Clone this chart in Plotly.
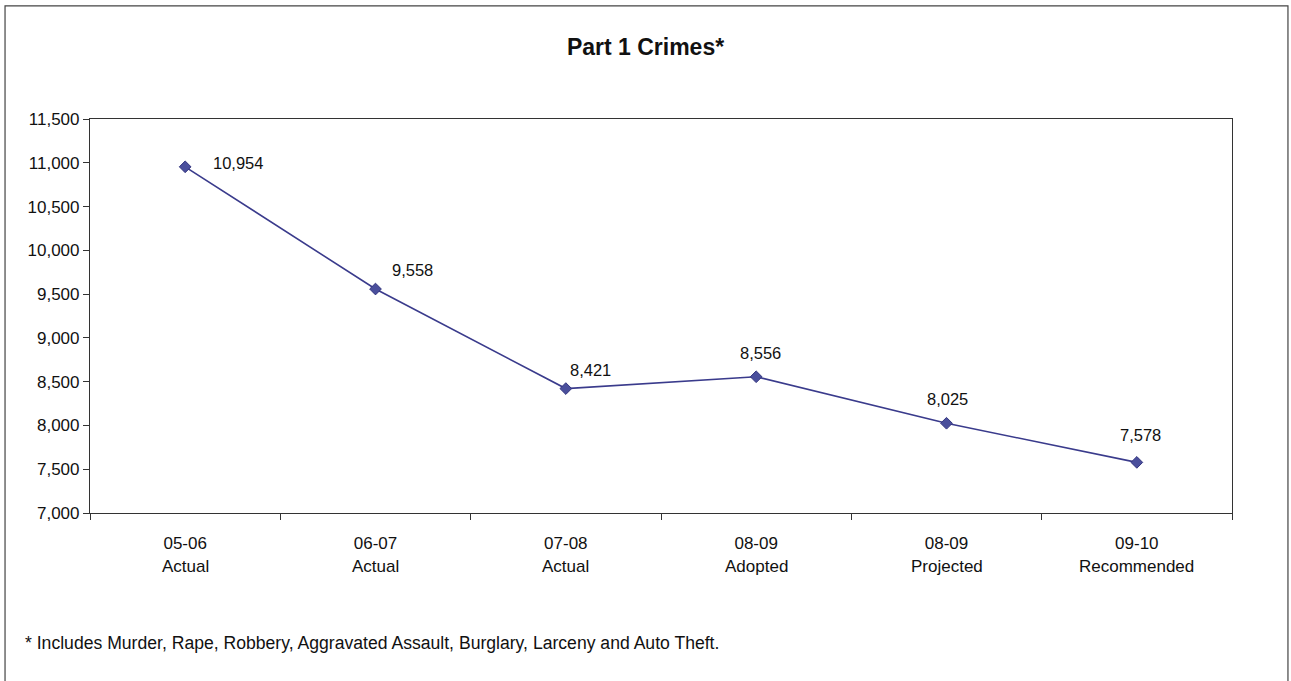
import plotly.graph_objects as go

periods = ["05-06", "06-07", "07-08", "08-09", "08-09", "09-10"]
kinds = ["Actual", "Actual", "Actual", "Adopted", "Projected", "Recommended"]
crimes = [10954, 9558, 8421, 8556, 8025, 7578]
y_ticks = [7000, 7500, 8000, 8500, 9000, 9500, 10000, 10500, 11000, 11500]

# label offsets (pixels) - styling only
label_dx = [53, 37, 25, 4, 1, 4]
label_dy = [4, 19, 19, 24, 24, 27]

FONT = "Liberation Sans, Arial, sans-serif"
x_idx = list(range(len(periods)))

fig = go.Figure()
fig.add_trace(go.Scatter(
    x=x_idx, y=crimes, mode="lines+markers",
    line=dict(color="#3a3b8c", width=1.6),
    marker=dict(symbol="diamond", size=9, color="#4a4f9c",
                line=dict(color="#33357f", width=1)),
    hoverinfo="skip", showlegend=False,
))

for i, v in enumerate(crimes):
    fig.add_annotation(x=i, y=v, text=f"{v:,}", showarrow=False,
                       xshift=label_dx[i], yshift=label_dy[i],
                       font=dict(family=FONT, size=16.5, color="#111111"))

# second line of category labels
for i, k in enumerate(kinds):
    fig.add_annotation(x=i, xref="x", yref="paper", y=-0.137, text=k,
                       showarrow=False, yanchor="middle",
                       font=dict(family=FONT, size=17, color="#111111"))

fig.add_annotation(xref="paper", yref="paper", x=-0.059, y=-0.33,
                   xanchor="left", yanchor="middle", showarrow=False,
                   text="* Includes Murder, Rape, Robbery, Aggravated Assault, Burglary, Larceny and Auto Theft.",
                   font=dict(family=FONT, size=17.6, color="#111111"))

# outer chart border
fig.add_shape(type="rect", xref="paper", yref="paper",
              x0=-0.0744, x1=1.049, y0=-0.46, y1=1.287,
              line=dict(color="#444444", width=1.2), layer="below")

fig.update_layout(
    width=1291, height=681,
    margin=dict(l=90, r=59, t=119, b=168),
    paper_bgcolor="white", plot_bgcolor="white",
    title=dict(text="<b>Part 1 Crimes*</b>", x=0.5, xanchor="center",
               xref="container", y=1 - 47 / 681, yanchor="middle",
               font=dict(family=FONT, size=23, color="#111111")),
    font=dict(family=FONT, size=17, color="#111111"),
    xaxis=dict(range=[-0.5, len(periods) - 0.5],
               tickvals=x_idx, ticktext=periods, ticks="",
               ticklabelstandoff=14,
               showgrid=False, zeroline=False,
               showline=True, linecolor="#333333", linewidth=1.2, mirror=True,
               minor=dict(tickvals=[i - 0.5 for i in range(len(periods) + 1)],
                          ticks="outside", ticklen=6, tickcolor="#333333",
                          showgrid=False),
               tickfont=dict(family=FONT, size=17)),
    yaxis=dict(range=[7000, 11500], tickvals=y_ticks, tickformat=",",
               ticks="outside", ticklen=6, tickcolor="#333333",
               showgrid=False, zeroline=False,
               showline=True, linecolor="#333333", linewidth=1.2, mirror=True,
               tickfont=dict(family=FONT, size=17)),
)

fig.write_html("out.html")
